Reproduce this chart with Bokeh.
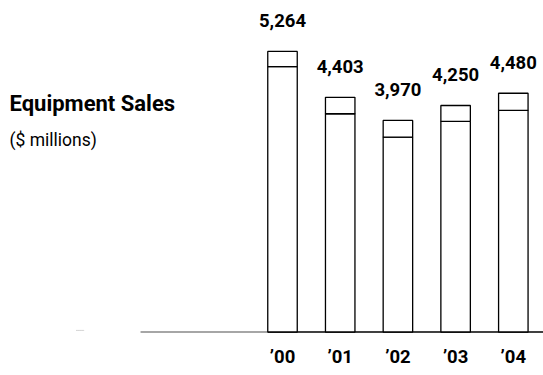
from bokeh.plotting import figure
from bokeh.models import ColumnDataSource, Range1d, Label
from bokeh.core.properties import value
from bokeh.embed import file_html
from bokeh.resources import INLINE

years = ["\u201900", "\u201901", "\u201902", "\u201903", "\u201904"]
totals = [5264, 4403, 3970, 4250, 4480]
lower = [4980, 4095, 3657, 3951, 4157]
labels = ["5,264", "4,403", "3,970", "4,250", "4,480"]

FONT = "Roboto"
pos = list(range(len(years)))

src = ColumnDataSource(dict(x=pos, total=totals, lower=lower, lab=labels, yr=years,
                            zero=[0] * len(pos)))

p = figure(width=543, height=375, output_backend="svg", toolbar_location=None,
           x_range=Range1d(-4.887, 4.523), y_range=Range1d(-816, 6220),
           min_border=0, outline_line_color=None, background_fill_color="white")
p.axis.visible = False
p.grid.visible = False

bw = 0.511
# baseline pieces
p.segment(x0=-3.57, x1=-3.43, y0=30, y1=30, line_color="#aaaaaa", line_width=1, line_dash="1 1")
p.segment(x0=-2.46, x1=-bw / 2, y0=0, y1=0, line_color="#888888", line_width=1.3)
p.segment(x0=-bw / 2, x1=4.6, y0=0, y1=0, line_color="black", line_width=1.6)

p.vbar(x="x", top="lower", bottom="zero", width=bw, source=src,
       fill_color="white", line_color="black", line_width=1.3)
p.vbar(x="x", top="total", bottom="lower", width=bw, source=src,
       fill_color="white", line_color="black", line_width=1.3)

p.text(x="x", y="total", text="lab", source=src, y_offset=-31,
       text_align="center", text_baseline="alphabetic",
       text_font=value(FONT), text_font_style="bold", text_font_size="18.5px",
       text_color="black")
p.text(x="x", y="zero", text="yr", source=src, y_offset=25,
       text_align="center", text_baseline="alphabetic",
       text_font=value(FONT), text_font_style="bold", text_font_size="18.5px",
       text_color="black")

p.add_layout(Label(x=9, y=375 - 103, x_units="screen", y_units="screen",
                   text="Equipment Sales", text_font=FONT, text_font_style="bold",
                   text_font_size="22px", text_color="black", text_baseline="alphabetic"))
p.add_layout(Label(x=9, y=375 - 139, x_units="screen", y_units="screen",
                   text="($ millions)", text_font=FONT,
                   text_font_size="17.5px", text_color="black", text_baseline="alphabetic"))

open("out.html", "w").write(file_html(p, INLINE))
